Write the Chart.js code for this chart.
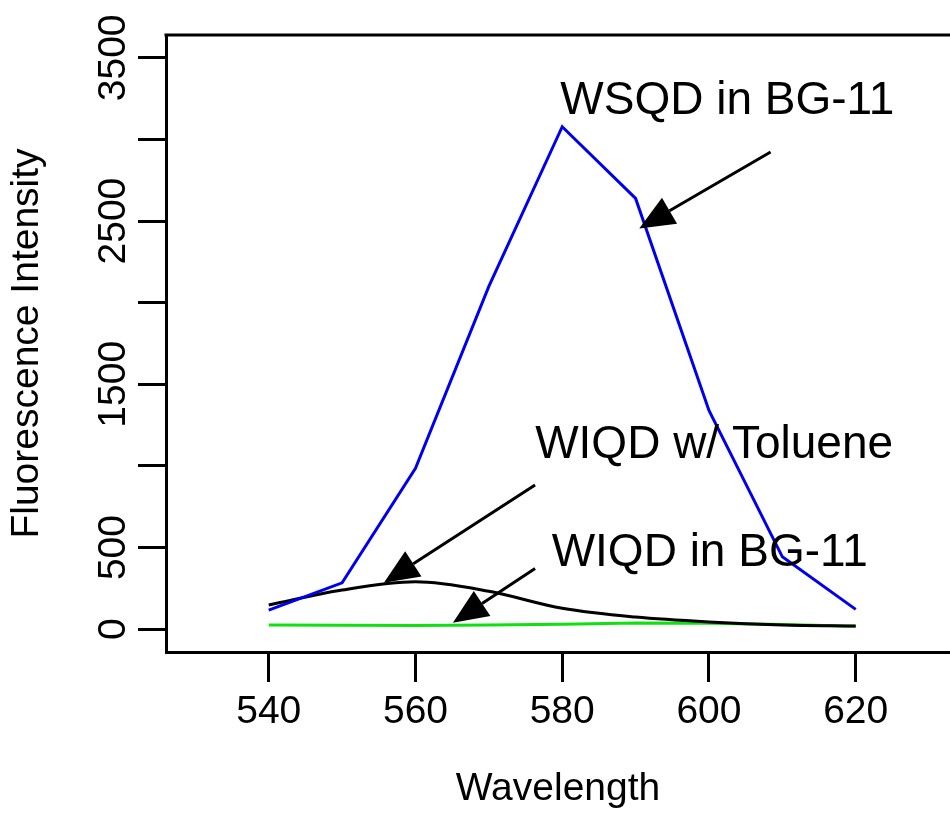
<!DOCTYPE html>
<html>
<head>
<meta charset="utf-8">
<script src="https://cdn.jsdelivr.net/npm/chart.js@4.4.1/dist/chart.umd.min.js"></script>
<style>
html,body{margin:0;padding:0;background:#fff;overflow:hidden}
#wrap{width:950px;height:821px}
</style>
</head>
<body>
<div id="wrap"><canvas id="c" width="950" height="821"></canvas></div>
<script>
// ---- data ----
const wavelengths = [540, 550, 560, 570, 580, 590, 600, 610, 620];
const wsqdBG11    = [117, 284, 985, 2100, 3078, 2639, 1340, 443, 121];
const wiqdToluene = [148, 240, 290, 232, 128, 74, 44, 26, 20];
const wiqdBG11    = [25, 24, 23, 25, 30, 38, 36, 28, 18];

const xTicks = [540, 560, 580, 600, 620];
const yTicks = [0, 500, 1000, 1500, 2000, 2500, 3000, 3500];
const yTickLabels = [0, 500, 1500, 2500, 3500];

const noteTexts = ['WSQD in BG-11', 'WIQD w/ Toluene', 'WIQD in BG-11'];
const noteX     = [602.5, 600.7, 600.1];
const noteY     = [3231, 1128, 464];
const arrowFromX = [608.4, 576.3, 576.3];
const arrowFromY = [2923, 883, 372];
const arrowToX   = [590.5, 555.7, 565.1];
const arrowToY   = [2455, 284, 39];

const FONT = '"Liberation Sans", Arial, Helvetica, sans-serif';

function pts(ys) { return wavelengths.map((w, i) => ({x: w, y: ys[i]})); }

const overlay = {
  id: 'overlay',
  afterDraw(chart) {
    const {ctx, chartArea: a, scales: {x, y}} = chart;
    ctx.save();
    // top frame line (R box)
    ctx.strokeStyle = '#000';
    ctx.lineWidth = 3;
    ctx.beginPath();
    ctx.moveTo(a.left - 1.5, a.top);
    ctx.lineTo(a.right, a.top);
    ctx.stroke();
    // arrows
    ctx.fillStyle = '#000';
    const L = 35, W = 30;
    for (let i = 0; i < arrowFromX.length; i++) {
      const x0 = x.getPixelForValue(arrowFromX[i]), y0 = y.getPixelForValue(arrowFromY[i]);
      const x1 = x.getPixelForValue(arrowToX[i]),   y1 = y.getPixelForValue(arrowToY[i]);
      const dx = x1 - x0, dy = y1 - y0, len = Math.hypot(dx, dy);
      const ux = dx / len, uy = dy / len;
      const bx = x1 - ux * L, by = y1 - uy * L;
      ctx.beginPath();
      ctx.moveTo(x0, y0);
      ctx.lineTo(bx, by);
      ctx.stroke();
      ctx.beginPath();
      ctx.moveTo(x1, y1);
      ctx.lineTo(bx - uy * W / 2, by + ux * W / 2);
      ctx.lineTo(bx + uy * W / 2, by - ux * W / 2);
      ctx.closePath();
      ctx.fill();
    }
    // annotation texts
    ctx.font = '46px ' + FONT;
    ctx.textAlign = 'center';
    ctx.textBaseline = 'middle';
    for (let i = 0; i < noteTexts.length; i++) {
      ctx.fillText(noteTexts[i], x.getPixelForValue(noteX[i]), y.getPixelForValue(noteY[i]));
    }
    ctx.restore();
  }
};

new Chart(document.getElementById('c'), {
  type: 'line',
  data: {
    datasets: [
      {label: 'WSQD in BG-11', data: pts(wsqdBG11), borderColor: '#0000f0', borderWidth: 3, tension: 0, order: 1},
      {label: 'WIQD w/ Toluene', data: pts(wiqdToluene), borderColor: '#000000', borderWidth: 3,
       cubicInterpolationMode: 'monotone', order: 2},
      {label: 'WIQD in BG-11', data: pts(wiqdBG11), borderColor: '#10e010', borderWidth: 3, tension: 0, order: 3}
    ]
  },
  options: {
    responsive: false,
    animation: false,
    devicePixelRatio: 1,
    layout: {padding: {top: 35, right: 0, bottom: 0, left: 0}},
    plugins: {legend: {display: false}, tooltip: {enabled: false}},
    elements: {point: {radius: 0, hoverRadius: 0}},
    scales: {
      x: {
        type: 'linear',
        position: 'bottom',
        min: 526,
        max: 632.85,
        afterBuildTicks: s => { s.ticks = xTicks.map(v => ({value: v})); },
        afterFit: s => { s.height = 169; },
        grid: {display: true, drawOnChartArea: false, drawTicks: true, tickLength: 30, tickWidth: 3, tickColor: '#000'},
        border: {display: true, width: 3, color: '#000'},
        ticks: {autoSkip: false, maxRotation: 0, minRotation: 0, color: '#000', padding: 11,
                font: {family: FONT, size: 39, lineHeight: 1}},
        title: {display: true, text: 'Wavelength', color: '#000',
                font: {family: FONT, size: 39, lineHeight: 1}, padding: {top: 0, bottom: 12}}
      },
      y: {
        type: 'linear',
        position: 'left',
        min: -140,
        max: 3640,
        afterBuildTicks: s => { s.ticks = yTicks.map(v => ({value: v})); },
        afterFit: s => { s.width = 166; },
        grid: {display: true, drawOnChartArea: false, drawTicks: true, tickLength: 28, tickWidth: 3, tickColor: '#000'},
        border: {display: true, width: 3, color: '#000'},
        ticks: {autoSkip: false, minRotation: 90, maxRotation: 90, crossAlign: 'center', padding: -19.4,
                color: '#000', font: {family: FONT, size: 39, lineHeight: 1},
                callback: v => yTickLabels.includes(v) ? String(v) : ''},
        title: {display: true, text: 'Fluorescence Intensity', color: '#000',
                font: {family: FONT, size: 39, lineHeight: 1}, padding: {top: 8, bottom: 0}}
      }
    }
  },
  plugins: [overlay]
});
</script>
</body>
</html>
